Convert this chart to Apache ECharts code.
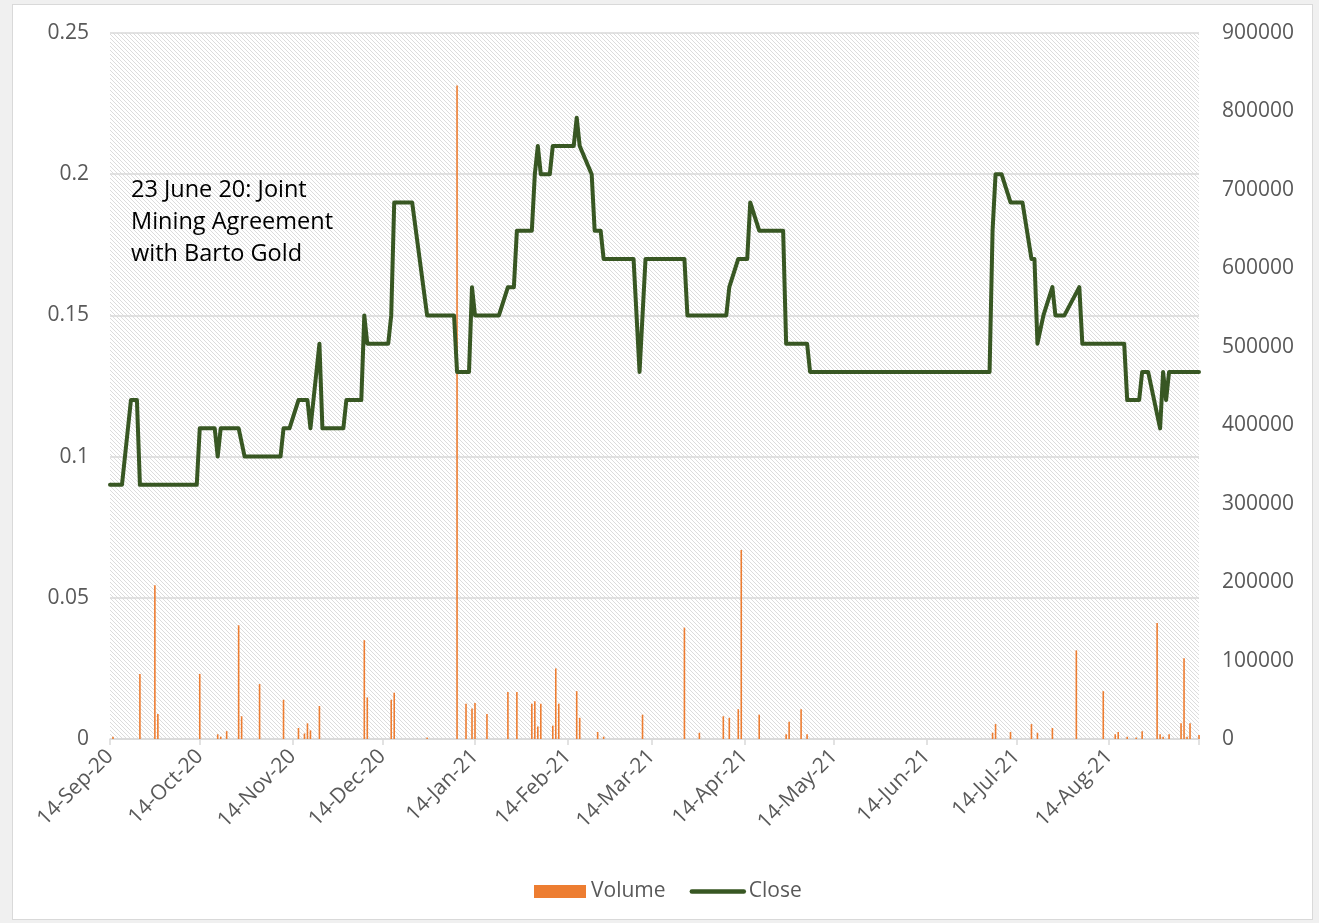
<!DOCTYPE html>
<html>
<head>
<meta charset="utf-8">
<script src="https://cdn.jsdelivr.net/npm/echarts@6/dist/echarts.min.js"></script>
<style>
html,body{margin:0;padding:0;background:#f0f0f0;}
#frame{position:absolute;left:12px;top:4px;width:1299px;height:914px;background:#fff;border:1px solid #d9d9d9;}
#chart{position:absolute;left:0;top:0;width:1319px;height:923px;}
</style>
</head>
<body>
<div id="frame"></div>
<div id="chart"></div>
<script>
// ---- data ----
const startDate = '2020-09-14';
const dayCount = 365;

const closeDates = ['2020-09-14','2020-09-18','2020-09-21','2020-09-23','2020-09-24','2020-10-13','2020-10-14','2020-10-19','2020-10-20','2020-10-21','2020-10-27','2020-10-29','2020-11-10','2020-11-11','2020-11-13','2020-11-16','2020-11-19','2020-11-20','2020-11-23','2020-11-24','2020-12-01','2020-12-02','2020-12-07','2020-12-08','2020-12-09','2020-12-16','2020-12-17','2020-12-18','2020-12-24','2020-12-29','2021-01-07','2021-01-08','2021-01-12','2021-01-13','2021-01-14','2021-01-22','2021-01-25','2021-01-27','2021-01-28','2021-02-02','2021-02-03','2021-02-04','2021-02-05','2021-02-08','2021-02-09','2021-02-16','2021-02-17','2021-02-18','2021-02-22','2021-02-23','2021-02-25','2021-02-26','2021-03-08','2021-03-10','2021-03-12','2021-03-25','2021-03-26','2021-04-08','2021-04-09','2021-04-12','2021-04-15','2021-04-16','2021-04-19','2021-04-27','2021-04-28','2021-05-05','2021-05-06','2021-07-05','2021-07-06','2021-07-07','2021-07-09','2021-07-12','2021-07-16','2021-07-19','2021-07-20','2021-07-21','2021-07-23','2021-07-26','2021-07-27','2021-07-30','2021-08-04','2021-08-05','2021-08-19','2021-08-20','2021-08-24','2021-08-25','2021-08-27','2021-08-31','2021-09-01','2021-09-02','2021-09-03','2021-09-13'];
const closeValues = [0.09,0.09,0.12,0.12,0.09,0.09,0.11,0.11,0.10,0.11,0.11,0.10,0.10,0.11,0.11,0.12,0.12,0.11,0.14,0.11,0.11,0.12,0.12,0.15,0.14,0.14,0.15,0.19,0.19,0.15,0.15,0.13,0.13,0.16,0.15,0.15,0.16,0.16,0.18,0.18,0.20,0.21,0.20,0.20,0.21,0.21,0.22,0.21,0.20,0.18,0.18,0.17,0.17,0.13,0.17,0.17,0.15,0.15,0.16,0.17,0.17,0.19,0.18,0.18,0.14,0.14,0.13,0.13,0.18,0.20,0.20,0.19,0.19,0.17,0.17,0.14,0.15,0.16,0.15,0.15,0.16,0.14,0.14,0.12,0.12,0.13,0.13,0.11,0.13,0.12,0.13,0.13];

const volumeDates = ['2020-09-15','2020-09-24','2020-09-29','2020-09-30','2020-10-14','2020-10-20','2020-10-21','2020-10-23','2020-10-27','2020-10-28','2020-11-03','2020-11-11','2020-11-16','2020-11-18','2020-11-19','2020-11-20','2020-11-23','2020-12-08','2020-12-09','2020-12-17','2020-12-18','2020-12-29','2021-01-08','2021-01-11','2021-01-13','2021-01-14','2021-01-18','2021-01-25','2021-01-28','2021-02-02','2021-02-03','2021-02-04','2021-02-05','2021-02-09','2021-02-10','2021-02-11','2021-02-17','2021-02-18','2021-02-24','2021-02-26','2021-03-11','2021-03-25','2021-03-30','2021-04-07','2021-04-09','2021-04-12','2021-04-13','2021-04-19','2021-04-28','2021-04-29','2021-05-03','2021-05-05','2021-07-06','2021-07-07','2021-07-12','2021-07-19','2021-07-21','2021-07-26','2021-08-03','2021-08-12','2021-08-16','2021-08-17','2021-08-20','2021-08-23','2021-08-25','2021-08-30','2021-08-31','2021-09-01','2021-09-03','2021-09-07','2021-09-08','2021-09-09','2021-09-10','2021-09-13'];
const volumeValues = [3000,83000,196000,32000,83000,6000,3000,10000,145000,29000,70000,50000,14000,7000,20000,11000,42000,126000,53000,50000,59000,2000,833000,45000,39000,46000,32000,60000,60000,45000,48000,16000,45000,17000,90000,45000,61000,27000,9000,3000,31000,142000,8000,29000,27000,38000,241000,31000,6000,22000,38000,6000,8000,19000,9000,19000,8000,14000,113000,61000,6000,9000,3000,2000,10000,148000,6000,3000,6000,20000,103000,3000,20000,5000];

const leftTicks = [0, 0.05, 0.1, 0.15, 0.2, 0.25];
const rightTicks = [0, 100000, 200000, 300000, 400000, 500000, 600000, 700000, 800000, 900000];
const annotationLines = ['23 June 20: Joint', 'Mining Agreement', 'with Barto Gold'];

// ---- axis categories (every calendar day) ----
const MONTHS = ['Jan','Feb','Mar','Apr','May','Jun','Jul','Aug','Sep','Oct','Nov','Dec'];
function pad(n){return n<10?'0'+n:''+n;}
const days = [];
(function(){
  const p = startDate.split('-').map(Number);
  const d = new Date(Date.UTC(p[0], p[1]-1, p[2]));
  for (let i=0;i<dayCount;i++){
    days.push(d.getUTCFullYear()+'-'+pad(d.getUTCMonth()+1)+'-'+pad(d.getUTCDate()));
    d.setUTCDate(d.getUTCDate()+1);
  }
})();
function fmtDate(s){
  const p = s.split('-');
  return Number(p[2]) + '-' + MONTHS[Number(p[1])-1] + '-' + p[0].slice(2);
}
function isTickDay(idx, s){ return s.slice(8)==='14' || idx===dayCount-1; }

// ---- hatch pattern ----
const pc = document.createElement('canvas');
pc.width = 4; pc.height = 4;
const pctx = pc.getContext('2d');
pctx.fillStyle = '#ffffff'; pctx.fillRect(0,0,4,4);
pctx.fillStyle = '#dcdcdc';
for (let i=0;i<4;i++) pctx.fillRect(i,i,1,1);

const FONT = '"Open Sans", "Noto Sans", sans-serif';
const chart = echarts.init(document.getElementById('chart'), null, {renderer:'canvas'});
chart.setOption({
  backgroundColor: 'transparent',
  animation: false,
  textStyle: {fontFamily: FONT},
  grid: {left:110, right:120, top:33, bottom:184, show:true, borderWidth:0,
         backgroundColor:{image: pc, repeat:'repeat'}},
  legend: {
    bottom: 16, left: 529, itemWidth: 52, itemHeight: 13, itemGap: 24,
    textStyle: {fontSize: 21, color:'#595959', fontFamily: FONT},
    data: [{name:'Volume', icon:'rect'},
           {name:'Close', itemStyle:{opacity:0, borderWidth:0},
            lineStyle:{width:4.5, cap:'round', color:'#385723'}}]
  },
  xAxis: {
    type: 'category', data: days, boundaryGap: false,
    axisLine: {lineStyle:{color:'#d9d9d9', width:1.5}},
    axisTick: {interval: isTickDay, length: 6, lineStyle:{color:'#d9d9d9', width:1.5}},
    axisLabel: {interval: isTickDay, rotate: 45, margin: 14, fontSize: 21, color:'#595959',
      fontFamily: FONT,
      formatter: function(v, idx){ return v.slice(8)==='14' ? fmtDate(v) : ''; }},
    splitLine: {show:false}
  },
  yAxis: [
    {type:'value', min:leftTicks[0], max:leftTicks[leftTicks.length-1], interval:0.05,
     axisLine:{show:false}, axisTick:{show:false},
     axisLabel:{fontSize:21, color:'#595959', margin:21, fontFamily: FONT,
       formatter: function(v){ return String(+v.toFixed(2)); }},
     splitLine:{lineStyle:{color:'#d9d9d9', width:1.5}}},
    {type:'value', min:rightTicks[0], max:rightTicks[rightTicks.length-1], interval:100000,
     axisLine:{show:false}, axisTick:{show:false},
     axisLabel:{fontSize:21, color:'#595959', margin:23, fontFamily: FONT,
       formatter: function(v){ return String(v); }},
     splitLine:{show:false}}
  ],
  series: [
    {name:'Volume', type:'bar', yAxisIndex:1, barWidth:1.6,
     itemStyle:{color:'#ED7D31'},
     data: volumeDates.map((d,i)=>[d, volumeValues[i]])},
    {name:'Close', type:'line', yAxisIndex:0, symbol:'none', showSymbol:false,
     lineStyle:{color:'#385723', width:4, join:'round', cap:'round'},
     itemStyle:{color:'#385723'},
     data: closeDates.map((d,i)=>[d, closeValues[i]])}
  ],
  graphic: [{
    type:'text', left:131, top:174,
    style:{text: annotationLines.join('\n'), font:'23.5px ' + FONT, fill:'#000', lineHeight:32}
  }]
});
</script>
</body>
</html>
